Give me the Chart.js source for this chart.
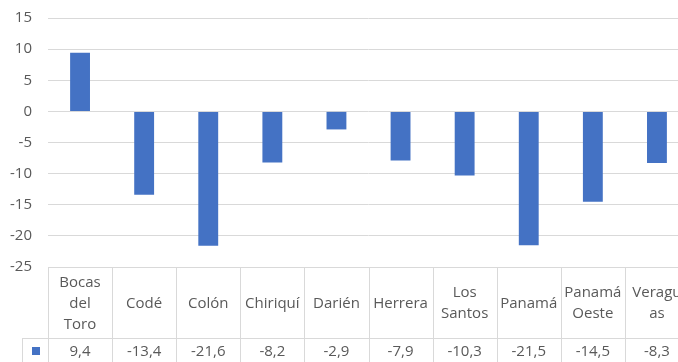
<!DOCTYPE html>
<html>
<head>
<meta charset="utf-8">
<script src="https://cdn.jsdelivr.net/npm/chart.js@4"></script>
<style>
  html, body { margin: 0; padding: 0; background: #fff; overflow: hidden; }
  #wrap { width: 690px; height: 362px; }
</style>
</head>
<body>
<div id="wrap"><canvas id="chart" width="690" height="362"></canvas></div>
<script>
// provinces, as they wrap in the table header
const categories = [
  ['Bocas', 'del', 'Toro'],
  ['Codé'],
  ['Colón'],
  ['Chiriquí'],
  ['Darién'],
  ['Herrera'],
  ['Los', 'Santos'],
  ['Panamá'],
  ['Panamá', 'Oeste'],
  ['Veragu', 'as']
];
const values = [9.4, -13.4, -21.6, -8.2, -2.9, -7.9, -10.3, -21.5, -14.5, -8.3];
const yTicks = [15, 10, 5, 0, -5, -10, -15, -20, -25];

const barColor = '#4472C4';
const gridColor = '#d9d9d9';
const textColor = '#595959';
const fontFamily = '"Open Sans", Lato, sans-serif';
const fontSize = 15;

// data table under the plot: category names, then the values
const dataTable = {
  id: 'dataTable',
  afterDraw(chart) {
    const ctx = chart.ctx;
    const area = chart.chartArea;
    const x = chart.scales.x;
    const n = categories.length;
    const w = (area.right - area.left) / n;
    const top = area.bottom;
    const mid = top + 71;
    const bottom = chart.height + 4;

    ctx.save();
    ctx.strokeStyle = gridColor;
    ctx.lineWidth = 1;
    ctx.beginPath();
    ctx.moveTo(area.left, top + 0.5);
    ctx.lineTo(chart.width, top + 0.5);
    ctx.moveTo(22, mid + 0.5);
    ctx.lineTo(chart.width, mid + 0.5);
    for (let i = 0; i <= n; i++) {
      const lx = Math.round(area.left + i * w) + 0.5;
      ctx.moveTo(lx, top);
      ctx.lineTo(lx, bottom);
    }
    ctx.moveTo(22.5, mid);
    ctx.lineTo(22.5, bottom);
    ctx.stroke();

    ctx.fillStyle = textColor;
    ctx.font = fontSize + 'px ' + fontFamily;
    ctx.textAlign = 'center';
    ctx.textBaseline = 'middle';
    const lineH = 21;
    categories.forEach((lines, i) => {
      const cx = x.getPixelForValue(i);
      const cy = (top + mid) / 2 + 1;
      const start = cy - (lines.length - 1) * lineH / 2;
      lines.forEach((t, j) => ctx.fillText(t, cx, start + j * lineH));
      const v = values[i].toFixed(1).replace('.', ',');
      ctx.fillText(v, cx, mid + 14);
    });

    // legend key
    ctx.fillStyle = barColor;
    ctx.fillRect(32, mid + 9, 8, 8);
    ctx.restore();
  }
};

new Chart(document.getElementById('chart'), {
  type: 'bar',
  data: {
    labels: categories.map(l => l.join(' ')),
    datasets: [{
      data: values,
      backgroundColor: barColor,
      borderWidth: 0,
      barPercentage: 0.31,
      categoryPercentage: 1
    }]
  },
  options: {
    responsive: false,
    animation: false,
    layout: { padding: { top: 18, bottom: 95, left: 0, right: 1 } },
    plugins: { legend: { display: false }, tooltip: { enabled: false } },
    scales: {
      x: { display: false },
      y: {
        min: -25,
        max: 15,
        afterFit(s) {
          s.width = 48;
          s.paddingTop = 0;
          s.paddingBottom = 0;
        },
        afterBuildTicks(s) { s.ticks = yTicks.map(v => ({ value: v })); },
        grid: { color: gridColor, drawTicks: false },
        border: { display: false },
        ticks: {
          padding: 16,
          color: textColor,
          font: { family: fontFamily, size: fontSize }
        }
      }
    }
  },
  plugins: [dataTable]
});
</script>
</body>
</html>
